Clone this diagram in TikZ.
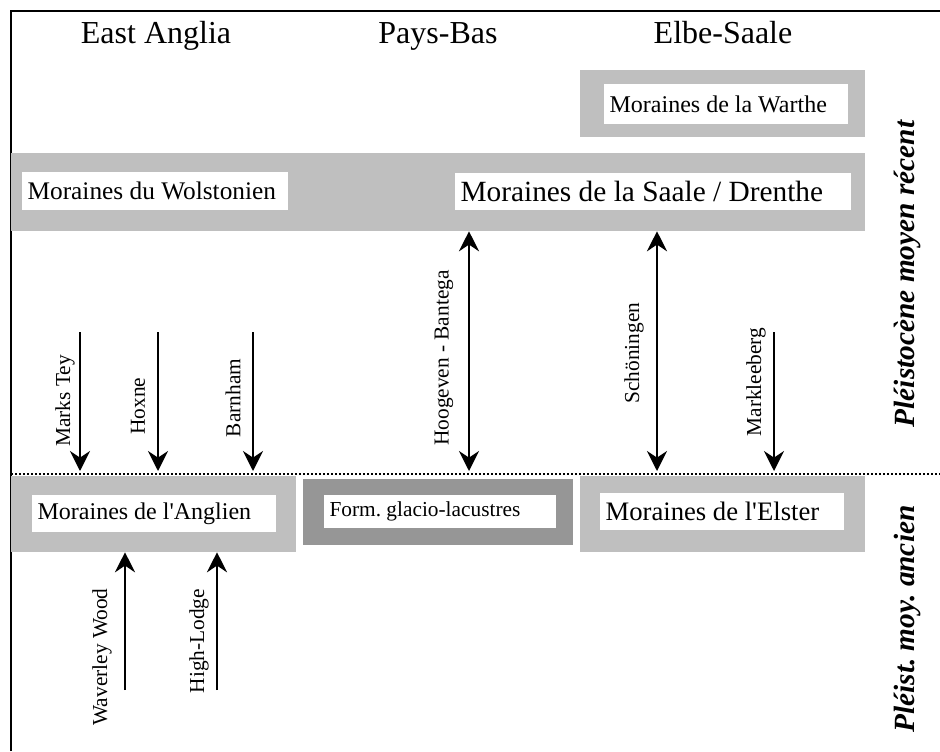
\documentclass[tikz,border=0pt]{standalone}
\usepackage{fontspec}
\setmainfont{Liberation Serif}[Ligatures=TeXOff]
\usetikzlibrary{arrows.meta}
\definecolor{lightgrey}{gray}{0.75}
\definecolor{darkgrey}{gray}{0.59}
\tikzset{
  region/.style={anchor=base, font=\fontsize{24}{28}\selectfont},
  band/.style={fill=lightgrey, inner sep=0pt},
  pane/.style={fill=white, inner xsep=4pt, inner ysep=0pt, align=flush left, anchor=west},
  site/.style={rotate=90, inner sep=0pt, font=\fontsize{16}{18}\selectfont},
  period/.style={rotate=90, inner sep=0pt, font=\fontsize{22}{26}\bfseries\itshape\selectfont},
  arr/.style={line width=2pt, -{Stealth[length=15pt,width=15pt,inset=5pt]}},
  darr/.style={line width=2pt, {Stealth[length=15pt,width=15pt,inset=5pt]}-{Stealth[length=15pt,width=15pt,inset=5pt]}},
}
\frenchspacing
\begin{document}
\begin{tikzpicture}[x=0.75pt,y=-0.75pt]
\useasboundingbox (0,0) rectangle (940,751);
\draw [line width=2pt] (11,751) -- (11,11) -- (940,11);

% regions
\node (ea) [region] at (156,43) {East Anglia};
\node (pb) [region] at (438,43) {Pays-Bas};
\node (es) [region] at (723,43) {Elbe-Saale};

% upper moraines
\node (warthe) [band, minimum width=213.75pt, minimum height=50.25pt] at (722.5,103.5) {};
\node (wartheT) [pane, text width=175pt, minimum height=30pt, font=\fontsize{18}{20}\selectfont] at (604,104) {Moraines de la Warthe};
\node (saale) [band, minimum width=640.5pt, minimum height=58.5pt] at (438,192) {};
\node (wolst) [pane, text width=191.5pt, minimum height=28.5pt, font=\fontsize{19}{21}\selectfont] at (22,191) {Moraines du Wolstonien};
\node (saaleT) [pane, text width=289pt, minimum height=27.75pt, font=\fontsize{22}{24}\selectfont] at (455,191.5) {Moraines de la Saale / Drenthe};

% limit
\coordinate (lim) at (11,471);
\draw [line width=1.5pt, dash pattern=on 1.5pt off 1.5pt] (11,474) -- (940,474);

% lower moraines
\node (anglien) [band, minimum width=213.75pt, minimum height=57pt] at (153.5,514) {};
\node (anglienT) [pane, text width=175pt, minimum height=27.75pt, font=\fontsize{18}{20}\selectfont] at (32,513.5) {Moraines de l'Anglien};
\node (glacio) [band, fill=darkgrey, minimum width=202.5pt, minimum height=49.5pt] at (438,512) {};
\node (glacioT) [pane, text width=166pt, minimum height=24.75pt, font=\fontsize{16}{18}\selectfont] at (324,511.5) {Form. glacio-lacustres};
\node (elster) [band, minimum width=213.75pt, minimum height=57pt] at (722.5,514) {};
\node (elsterT) [pane, text width=175pt, minimum height=27.75pt, font=\fontsize{20}{22}\selectfont] at (600,511.5) {Moraines de l'Elster};

% sites
\coordinate (mt) at (80,332);
\coordinate (hx) at (158,332);
\coordinate (bh) at (253,332);
\coordinate (hb) at (469,332);
\coordinate (sch) at (657,332);
\coordinate (mk) at (774,332);
\coordinate (ww) at (125,690);
\coordinate (hl) at (217,690);
\draw [arr] (mt) -- (mt |- lim);
\draw [arr] (hx) -- (hx |- lim);
\draw [arr] (bh) -- (bh |- lim);
\draw [arr] (mk) -- (mk |- lim);
\draw [darr] (hb |- saale.south) -- (hb |- lim);
\draw [darr] (sch |- saale.south) -- (sch |- lim);
\draw [arr] (ww) -- (ww |- anglien.south);
\draw [arr] (hl) -- (hl |- anglien.south);

\node (mtL) [site] at (65,401) {Marks Tey};
\node (hxL) [site] at (138,406) {Hoxne};
\node (bhL) [site] at (233,398) {Barnham};
\node (hbL) [site] at (444,358) {Hoogeven - Bantega};
\node (schL) [site] at (634,353) {Schöningen};
\node (mkL) [site] at (756,382) {Markleeberg};
\node (wwL) [site] at (102,657) {Waverley Wood};
\node (hlL) [site] at (199,641) {High-Lodge};

% periods
\node (recent) [period] at (907,274) {Pléistocène moyen récent};
\node (ancien) [period] at (907,619) {Pléist. moy. ancien};
\end{tikzpicture}
\end{document}
